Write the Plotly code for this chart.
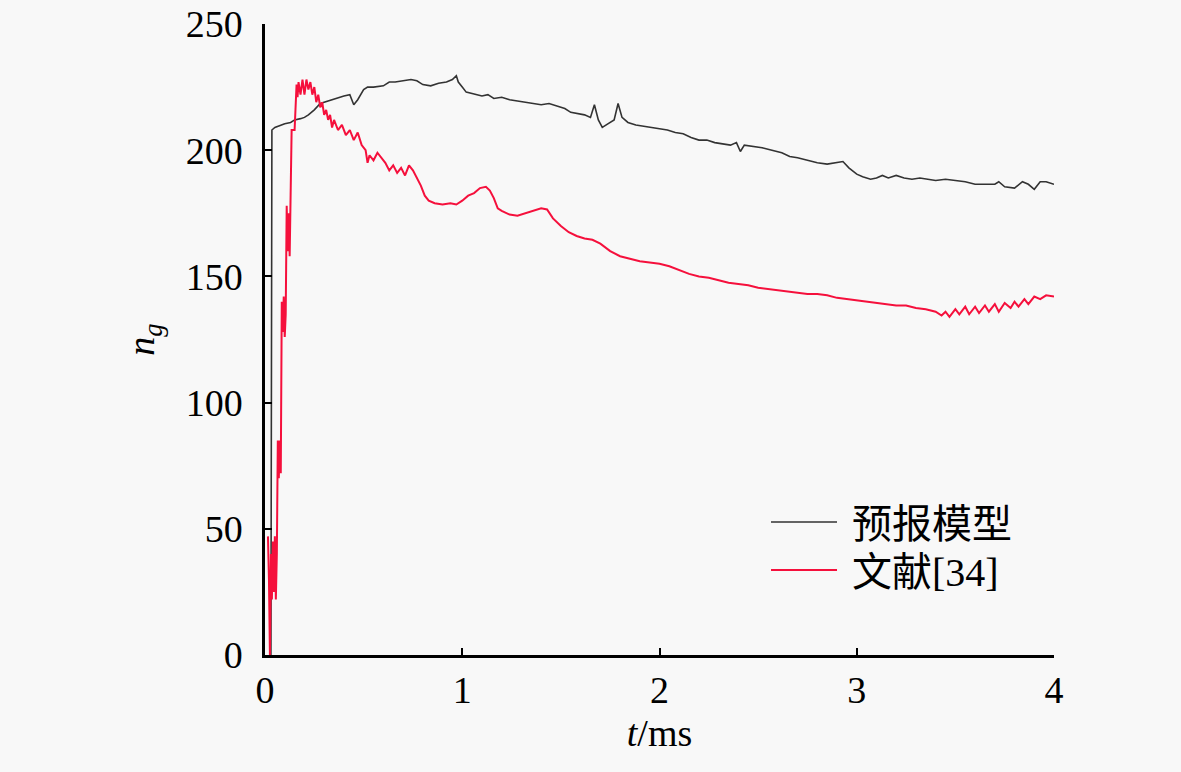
import plotly.graph_objects as go

# 预报模型 (black)
black_t = [0.03, 0.035, 0.05, 0.08, 0.1, 0.13, 0.15, 0.18, 0.2, 0.22, 0.25, 0.28, 0.3, 0.33, 0.36, 0.4,
           0.43, 0.45, 0.47, 0.5, 0.52, 0.55, 0.6, 0.63, 0.66, 0.7, 0.74, 0.77, 0.8, 0.84, 0.88, 0.92,
           0.95, 0.97, 0.98, 1.0, 1.02, 1.05, 1.08, 1.1, 1.13, 1.16, 1.2, 1.24, 1.28, 1.32, 1.36, 1.4,
           1.44, 1.48, 1.52, 1.55, 1.58, 1.62, 1.65, 1.67, 1.69, 1.71, 1.74, 1.77, 1.79, 1.81, 1.84,
           1.88, 1.92, 1.96, 2.0, 2.04, 2.08, 2.12, 2.16, 2.2, 2.24, 2.28, 2.32, 2.36, 2.39, 2.41, 2.43,
           2.47, 2.52, 2.57, 2.62, 2.66, 2.7, 2.75, 2.8, 2.85, 2.9, 2.93, 2.96, 3.0, 3.03, 3.07, 3.1,
           3.13, 3.16, 3.2, 3.24, 3.28, 3.32, 3.36, 3.4, 3.45, 3.5, 3.55, 3.6, 3.65, 3.7, 3.72, 3.75,
           3.8, 3.84, 3.87, 3.9, 3.93, 3.96, 4.0]
black_v = [0, 208, 209, 210, 210.5, 211, 212, 212.5, 213, 214, 216, 218.5, 219, 220, 220.5, 221.5,
           222, 218, 220, 224, 225, 225, 225.5, 227, 227, 227.5, 228, 227.5, 226, 225.5, 226.5, 227,
           228, 229.5, 227, 225, 223, 222.5, 222, 221.5, 222, 220.5, 221, 220, 219.5, 219, 218.5, 218,
           218.5, 217.5, 216.5, 215, 214.5, 214, 213, 218, 212, 209, 210.5, 212, 218.5, 213, 211,
           210, 209.5, 209, 208.5, 208, 207, 206.5, 205, 204, 204, 203, 202.5, 202, 203, 199.5, 202,
           201.5, 201, 200, 199, 197.5, 197, 196, 195, 194.5, 195, 195.5, 193, 190.5, 189.5, 188.5, 189,
           190, 189, 190, 189, 188.5, 189, 188.5, 188, 188.5, 188, 187.5, 186.5, 186.5, 186.5, 187.5, 185.5,
           185, 187.5, 186.5, 184.5, 187.5, 187.5, 186.5]

# 文献[34] (red)
red_t = [0.015, 0.02, 0.025, 0.03, 0.035, 0.04, 0.045, 0.05, 0.055, 0.06, 0.065, 0.07, 0.075, 0.08,
         0.085, 0.09, 0.095, 0.1, 0.105, 0.11, 0.115, 0.12, 0.125, 0.13, 0.135, 0.14, 0.15, 0.16,
         0.165, 0.17, 0.18, 0.19, 0.2, 0.21, 0.22, 0.23, 0.24, 0.25, 0.26, 0.27, 0.28, 0.29, 0.3,
         0.31, 0.32, 0.33, 0.34, 0.35, 0.37, 0.39, 0.41, 0.43, 0.45, 0.47, 0.49, 0.51, 0.52, 0.53,
         0.55, 0.57, 0.59, 0.61, 0.63, 0.65, 0.67, 0.69, 0.71, 0.73, 0.75, 0.77, 0.79, 0.81, 0.83,
         0.86, 0.9, 0.94, 0.97, 1.0, 1.03, 1.06, 1.09, 1.12, 1.14, 1.16, 1.18, 1.2, 1.24, 1.28, 1.32,
         1.36, 1.4, 1.43, 1.46, 1.5, 1.54, 1.58, 1.62, 1.66, 1.7, 1.75, 1.8, 1.85, 1.9, 1.95, 2.0,
         2.05, 2.1, 2.15, 2.2, 2.25, 2.3, 2.35, 2.4, 2.45, 2.5, 2.55, 2.6, 2.65, 2.7, 2.75, 2.8,
         2.85, 2.9, 2.95, 3.0, 3.05, 3.1, 3.15, 3.2, 3.25, 3.3, 3.35, 3.4, 3.43, 3.45, 3.47, 3.5,
         3.52, 3.55, 3.57, 3.6, 3.62, 3.65, 3.67, 3.7, 3.72, 3.75, 3.78, 3.8, 3.82, 3.85, 3.87, 3.9,
         3.93, 3.96, 4.0]
red_v = [47, 30, 0, 40, 22, 45, 25, 47, 22, 40, 85, 70, 85, 72,
         140, 128, 142, 126, 135, 178, 160, 175, 158, 178, 208, 208, 208, 226,
         221, 227, 222, 228, 222, 228, 224, 227, 222, 225, 219, 222, 217, 219, 214,
         216, 212, 214, 209, 212, 208, 210, 206, 208, 204, 207, 202, 200, 195, 198,
         196, 199, 197, 195, 192, 194, 191, 193, 190, 194, 192, 189, 186, 182, 180,
         179, 178.5, 179, 178.5, 180, 182, 183, 185, 185.5, 184, 181, 177, 176, 174.5, 174, 175,
         176, 177, 176.5, 173, 170, 167.5, 166, 165, 164.5, 163, 160, 158, 157, 156, 155.5, 155,
         154, 152.5, 151, 150, 149.5, 148.5, 147.5, 147, 146.5, 145.5, 145, 144.5, 144, 143.5, 143, 143,
         142.5, 141.5, 141, 140.5, 140, 139.5, 139, 138.5, 138.5, 137.5, 137, 136, 134.5, 136, 134, 137,
         135, 138, 135, 138, 135.5, 138.5, 136, 139, 136, 139.5, 137.5, 140, 138, 141, 139, 142,
         141, 142.5, 142]

x_ticks = [0, 1, 2, 3, 4]
y_ticks = [0, 50, 100, 150, 200, 250]

BG = "#f8f8f8"
FONT = "Liberation Serif, Times New Roman, Noto Sans CJK SC, serif"

fig = go.Figure()
fig.add_trace(go.Scatter(x=black_t, y=black_v, mode="lines", name="&nbsp;预报模型",
                         line=dict(color="#333333", width=1.6), legend="legend"))
fig.add_trace(go.Scatter(x=red_t, y=red_v, mode="lines", name="&nbsp;文献[34]",
                         line=dict(color="#f5103c", width=2), legend="legend2"))

legend_common = dict(xanchor="left", yanchor="middle", bgcolor="rgba(0,0,0,0)",
                     font=dict(size=40, family=FONT), itemwidth=66)

fig.update_layout(
    width=1181, height=772,
    margin=dict(l=265, r=127, t=24, b=117),
    paper_bgcolor=BG, plot_bgcolor=BG,
    font=dict(family=FONT, size=38, color="black"),
    showlegend=True,
    legend=dict(x=0.635, y=(655 - 522) / 631, **legend_common),
    legend2=dict(x=0.635, y=(655 - 570) / 631, **legend_common),
)
fig.update_xaxes(range=[0, 4], tickvals=x_ticks, ticks="inside", ticklen=7, tickwidth=2,
                 tickcolor="black", showline=True, linecolor="black", linewidth=2.5,
                 showgrid=False, zeroline=False, ticklabelstandoff=0, automargin=False,
                 title=dict(text="<i>t</i>/ms", font=dict(size=38), standoff=10))
fig.update_yaxes(range=[0, 250], tickvals=y_ticks, ticks="inside", ticklen=7, tickwidth=2,
                 tickcolor="black", showline=True, linecolor="black", linewidth=2.5,
                 showgrid=False, zeroline=False, ticklabelstandoff=12, automargin=False,
                 title=dict(text="<i>n</i><sub><i>g</i></sub>", font=dict(size=38), standoff=20))

fig.write_html("out.html", config={"displayModeBar": False},
               post_script="document.body.style.margin='0';document.body.style.background='%s';" % BG)
